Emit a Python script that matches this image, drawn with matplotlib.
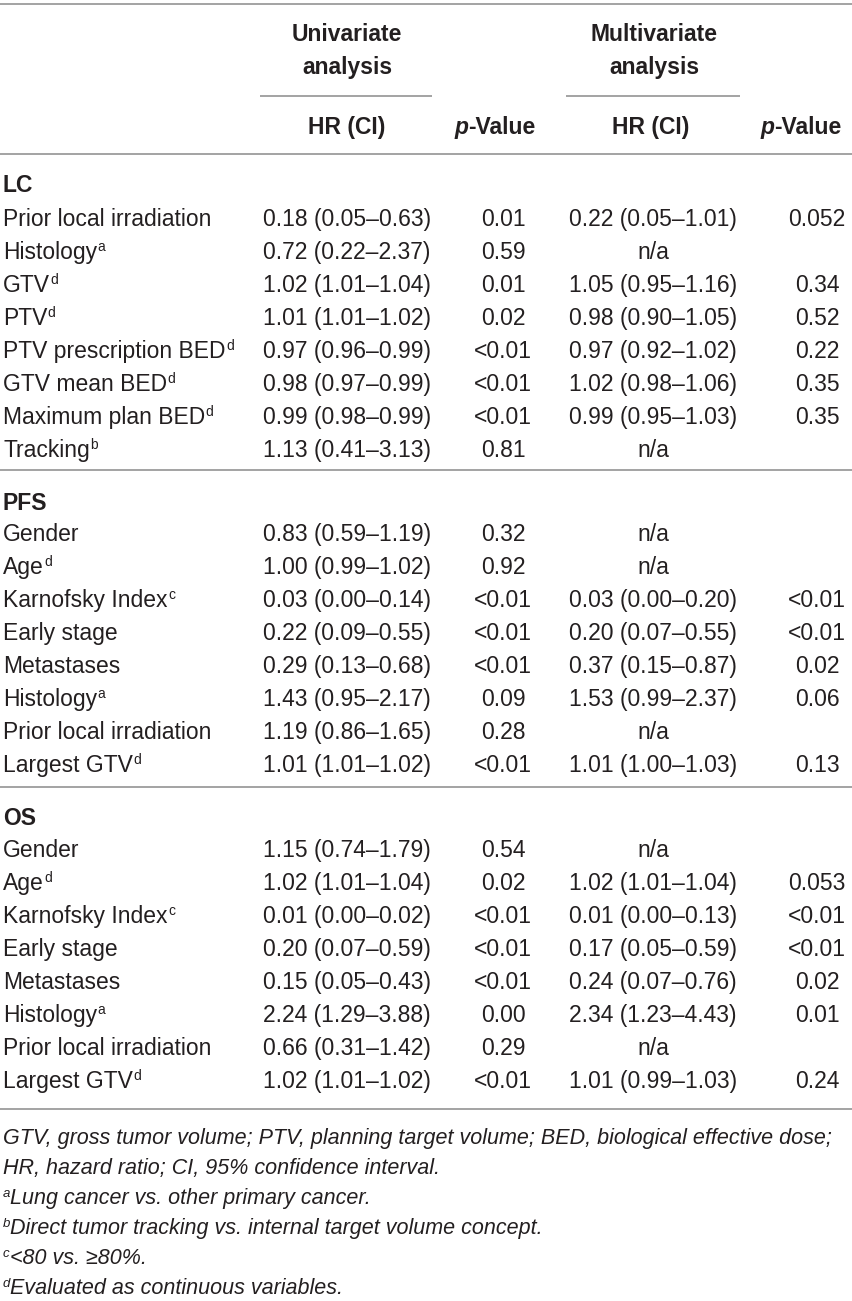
import matplotlib
matplotlib.use('Agg')
import matplotlib.pyplot as plt

plt.rcParams['font.family'] = ['Liberation Sans', 'DejaVu Sans']

# данные таблицы
sections = ['LC', 'PFS', 'OS']

lc_labels = ['Prior local irradiation', 'Histology', 'GTV', 'PTV', 'PTV prescription BED',
             'GTV mean BED', 'Maximum plan BED', 'Tracking']
lc_sups = ['', 'a', 'd', 'd', 'd', 'd', 'd', 'b']
lc_uni_hr = ['0.18 (0.05–0.63)', '0.72 (0.22–2.37)', '1.02 (1.01–1.04)', '1.01 (1.01–1.02)',
             '0.97 (0.96–0.99)', '0.98 (0.97–0.99)', '0.99 (0.98–0.99)', '1.13 (0.41–3.13)']
lc_uni_p = ['0.01', '0.59', '0.01', '0.02', '<0.01', '<0.01', '<0.01', '0.81']
lc_multi_hr = ['0.22 (0.05–1.01)', 'n/a', '1.05 (0.95–1.16)', '0.98 (0.90–1.05)',
               '0.97 (0.92–1.02)', '1.02 (0.98–1.06)', '0.99 (0.95–1.03)', 'n/a']
lc_multi_p = ['0.052', '', '0.34', '0.52', '0.22', '0.35', '0.35', '']

pfs_labels = ['Gender', 'Age', 'Karnofsky Index', 'Early stage', 'Metastases', 'Histology',
              'Prior local irradiation', 'Largest GTV']
pfs_sups = ['', 'd', 'c', '', '', 'a', '', 'd']
pfs_uni_hr = ['0.83 (0.59–1.19)', '1.00 (0.99–1.02)', '0.03 (0.00–0.14)', '0.22 (0.09–0.55)',
              '0.29 (0.13–0.68)', '1.43 (0.95–2.17)', '1.19 (0.86–1.65)', '1.01 (1.01–1.02)']
pfs_uni_p = ['0.32', '0.92', '<0.01', '<0.01', '<0.01', '0.09', '0.28', '<0.01']
pfs_multi_hr = ['n/a', 'n/a', '0.03 (0.00–0.20)', '0.20 (0.07–0.55)', '0.37 (0.15–0.87)',
                '1.53 (0.99–2.37)', 'n/a', '1.01 (1.00–1.03)']
pfs_multi_p = ['', '', '<0.01', '<0.01', '0.02', '0.06', '', '0.13']

os_labels = ['Gender', 'Age', 'Karnofsky Index', 'Early stage', 'Metastases', 'Histology',
             'Prior local irradiation', 'Largest GTV']
os_sups = ['', 'd', 'c', '', '', 'a', '', 'd']
os_uni_hr = ['1.15 (0.74–1.79)', '1.02 (1.01–1.04)', '0.01 (0.00–0.02)', '0.20 (0.07–0.59)',
             '0.15 (0.05–0.43)', '2.24 (1.29–3.88)', '0.66 (0.31–1.42)', '1.02 (1.01–1.02)']
os_uni_p = ['0.54', '0.02', '<0.01', '<0.01', '<0.01', '0.00', '0.29', '<0.01']
os_multi_hr = ['n/a', '1.02 (1.01–1.04)', '0.01 (0.00–0.13)', '0.17 (0.05–0.59)',
               '0.24 (0.07–0.76)', '2.34 (1.23–4.43)', 'n/a', '1.01 (0.99–1.03)']
os_multi_p = ['', '0.053', '<0.01', '<0.01', '0.02', '0.01', '', '0.24']

footnote_sups = ['', '', 'a', 'b', 'c', 'd']
footnotes = ['GTV, gross tumor volume; PTV, planning target volume; BED, biological effective dose;',
             'HR, hazard ratio; CI, 95% confidence interval.',
             'Lung cancer vs. other primary cancer.',
             'Direct tumor tracking vs. internal target volume concept.',
             '<80 vs. ≥80%.',
             'Evaluated as continuous variables.']

blocks = [
    (lc_labels, lc_sups, lc_uni_hr, lc_uni_p, lc_multi_hr, lc_multi_p),
    (pfs_labels, pfs_sups, pfs_uni_hr, pfs_uni_p, pfs_multi_hr, pfs_multi_p),
    (os_labels, os_sups, os_uni_hr, os_uni_p, os_multi_hr, os_multi_p),
]

TXT = '#231f20'
LINE = '#8a8a8a'
FS = 16.5
FN = 15.5
SUP = 10

fig = plt.figure(figsize=(8.52, 13.01), dpi=100)
ax = fig.add_axes([0, 0, 1, 1])
ax.set_xlim(0, 852)
ax.set_ylim(1301, 0)
ax.axis('off')

def hline(y, x0=0, x1=852):
    ax.plot([x0, x1], [y, y], color=LINE, lw=1.1, solid_capstyle='butt')

def put(x, y, s, ha='center', size=FS, **kw):
    return ax.text(x, y + 8, s, ha=ha, va='baseline', fontsize=size, color=TXT, **kw)

def sup_after(artist, y, s, **kw):
    ax.annotate(s, xy=(1, y + 8), xycoords=(artist, 'data'), xytext=(0.3, 6),
                textcoords='offset points', ha='left', va='baseline',
                fontsize=SUP, color=TXT, **kw)

# шапка
hline(4)
put(347, 33, 'Univariate', fontweight='bold')
put(347, 66, 'analysis', fontweight='bold')
put(654, 33, 'Multivariate', fontweight='bold')
put(654, 66, 'analysis', fontweight='bold')
hline(96, 260, 432)
hline(96, 566, 740)
put(347, 126, 'HR (CI)', fontweight='bold')
put(651, 126, 'HR (CI)', fontweight='bold')
for xs in (468, 774):
    put(xs, 126, 'p', ha='right', fontweight='bold', fontstyle='italic')
    put(xs, 126, '-Value', ha='left', fontweight='bold')
hline(154)

# тело таблицы
sec_y = [184, 502, 817]
row0 = [218, 533, 849]
sep_y = [470, 787, 1109]
step = 33
for k, (labels, sups, uhr, up, mhr, mp) in enumerate(blocks):
    put(3, sec_y[k], sections[k], ha='left', fontweight='bold')
    for i in range(len(labels)):
        y = row0[k] + i * step
        t = put(3, y, labels[i], ha='left')
        if sups[i]:
            sup_after(t, y, sups[i])
        put(347, y, uhr[i])
        put(503, y, up[i])
        put(653, y, mhr[i])
        put(817, y, mp[i])
    hline(sep_y[k])

# примечания
for i, (s, note) in enumerate(zip(footnote_sups, footnotes)):
    y = 1136 + 30 * i
    if s:
        st = ax.text(3, y + 8 - 7, s, ha='left', va='baseline', fontsize=SUP - 0.5,
                     color=TXT, fontstyle='italic')
        ax.annotate(note, xy=(1, y + 8), xycoords=(st, 'data'), ha='left',
                    va='baseline', fontsize=FN, color=TXT, fontstyle='italic')
    else:
        put(3, y, note, ha='left', size=FN, fontstyle='italic')

fig.savefig('out.png', dpi=100)
